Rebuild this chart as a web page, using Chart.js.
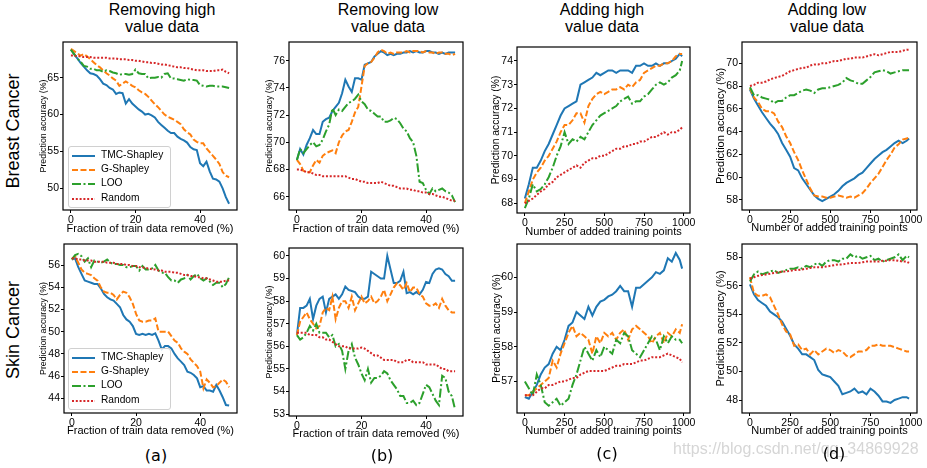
<!DOCTYPE html>
<html><head><meta charset="utf-8">
<script src="https://cdn.jsdelivr.net/npm/chart.js@4.4.1/dist/chart.umd.min.js"></script>
<style>
html,body{margin:0;padding:0;background:#fff;}
#root{position:relative;width:927px;height:468px;overflow:hidden;background:#fff;font-family:"Liberation Sans",Arial,sans-serif;color:#000;}
.ttl{position:absolute;top:1px;font-size:16px;line-height:17px;text-align:center;white-space:nowrap;transform:translateX(-50%);}
.row{position:absolute;font-size:18px;white-space:nowrap;transform:translate(-50%,-50%) rotate(-90deg);}
.lab{position:absolute;font-family:"DejaVu Sans",sans-serif;font-size:16px;white-space:nowrap;transform:translate(-50%,-50%);z-index:5;}
.wm{position:absolute;left:673px;top:449px;font-size:16px;color:#d6d6d6;white-space:nowrap;transform:translateY(-50%);z-index:4;}
canvas{position:absolute;}
.leg{position:absolute;width:101px;height:60px;border:1px solid #d0d0d0;border-radius:3px;background:rgba(255,255,255,0.85);z-index:6;font-size:10.2px;}
.leg div{position:absolute;left:0;height:12px;width:100px;}
.leg svg{position:absolute;left:3px;top:4px;}
.leg span{position:absolute;left:32px;top:-1px;white-space:nowrap;}
</style></head>
<body><div id="root">
<div class="ttl" style="left:162px">Removing high<br>value data</div>
<div class="ttl" style="left:388px">Removing low<br>value data</div>
<div class="ttl" style="left:602px">Adding high<br>value data</div>
<div class="ttl" style="left:827px">Adding low<br>value data</div>
<div class="row" style="left:12.5px;top:131px">Breast Cancer</div>
<div class="row" style="left:12.5px;top:330px">Skin Cancer</div>
<div class="wm">https://blog.csdn.net/qq_34869928</div>
<div class="lab" style="left:156px;top:455px">(a)</div>
<div class="lab" style="left:382px;top:455px">(b)</div>
<div class="lab" style="left:607px;top:453px">(c)</div>
<div class="lab" style="left:834px;top:453px">(d)</div>
</div>
<script>
// ---------- data ----------
const SERIES_NAMES = ['TMC-Shapley','G-Shapley','LOO','Random'];
const X_REMOVE = [0,1,2,3,4,5,6,7,8,9,10,11,12,13,14,15,16,17,18,19,20,21,22,23,24,25,26,27,28,29,30,31,32,33,34,35,36,37,38,39,40,41,42,43,44,45,46,47,48,49];
const X_ADD = [0,25,50,75,100,125,150,175,200,225,250,275,300,325,350,375,400,425,450,475,500,525,550,575,600,625,650,675,700,725,750,775,800,825,850,875,900,925,950,975,990];
const X_TICKS_REMOVE = [0,20,40];
const X_TICKS_ADD = [0,250,500,750,1000];

const A1_TMC = [68.8,68.2,67.6,67.0,66.5,66.0,65.6,65.5,65.3,64.8,64.2,64.0,63.6,63.4,62.8,63.0,62.9,61.5,62.1,61.5,61.1,60.7,60.4,60.0,60.1,59.9,59.6,59.0,58.6,58.2,57.8,57.5,57.5,57.0,56.7,56.5,56.2,55.6,55.3,55.2,53.4,53.0,53.6,52.3,51.3,51.2,50.9,50.0,48.8,47.9];
const A1_G = [68.9,68.6,68.3,68.0,68.2,67.9,67.5,67.1,66.7,66.4,66.0,65.6,65.3,64.9,64.6,63.9,64.2,64.5,64.2,63.9,63.7,63.3,63.0,62.8,62.4,61.9,61.4,61.0,60.5,60.0,59.7,59.5,59.3,59.0,58.7,58.0,57.6,57.3,56.6,56.3,56.1,56.1,55.4,54.9,54.4,53.9,53.3,52.2,51.7,51.5];
const A1_LOO = [68.8,68.2,67.6,67.2,66.6,66.5,66.2,66.2,66.0,66.0,65.8,66.0,65.9,65.7,65.6,65.4,65.5,65.5,65.4,65.5,66.1,65.6,65.5,65.5,64.9,65.0,65.0,65.1,65.0,65.5,65.6,64.9,64.9,64.8,64.7,64.6,64.8,64.7,64.7,64.6,64.0,63.9,63.8,63.9,63.9,63.8,63.8,63.8,63.7,63.6];
const A1_RAND = [68.0,68.0,67.9,67.9,67.8,67.8,67.8,67.7,67.7,67.7,67.7,67.7,67.6,67.6,67.6,67.5,67.5,67.5,67.4,67.4,67.3,67.3,67.2,67.1,67.1,67.0,67.0,66.9,66.8,66.8,66.7,66.6,66.5,66.4,66.4,66.3,66.3,66.2,66.1,66.0,66.0,66.0,65.9,65.9,65.9,66.0,66.0,66.1,65.8,65.6];

const B1_TMC = [68.7,69.5,69.1,69.8,70.3,70.9,70.6,70.6,71.5,71.7,71.8,72.3,72.6,72.9,73.6,74.6,74.1,73.7,74.7,74.7,74.6,75.7,75.8,75.9,76.3,76.5,76.7,76.6,76.4,76.5,76.4,76.5,76.5,76.6,76.6,76.7,76.6,76.7,76.6,76.6,76.7,76.7,76.6,76.6,76.5,76.6,76.5,76.6,76.6,76.6];
const B1_G = [68.7,68.4,67.9,67.8,67.8,68.3,68.7,68.5,69.0,69.2,69.3,69.4,69.2,70.0,70.5,70.8,70.9,71.5,72.2,72.6,74.1,75.6,75.8,75.9,76.2,76.6,76.8,76.7,76.5,76.6,76.5,76.6,76.6,76.6,76.7,76.6,76.7,76.7,76.7,76.6,76.7,76.6,76.6,76.5,76.6,76.6,76.5,76.5,76.4,76.5];
const B1_LOO = [68.7,69.5,69.2,69.5,69.8,70.0,69.7,69.8,70.2,70.8,71.3,72.5,72.0,72.4,72.3,72.6,72.9,73.0,73.2,73.5,73.0,72.8,72.4,72.3,72.1,71.9,71.9,71.5,71.5,71.6,71.8,71.7,71.4,71.0,70.8,70.3,70.0,69.0,67.1,67.0,66.5,66.2,66.6,66.4,66.5,66.6,66.4,66.3,66.1,65.6];
const B1_RAND = [68.0,68.0,67.9,67.8,67.8,67.7,67.6,67.6,67.5,67.5,67.5,67.5,67.5,67.5,67.5,67.5,67.4,67.3,67.3,67.2,67.1,67.1,67.0,67.0,67.0,67.0,67.1,67.0,66.9,66.8,66.8,66.7,66.6,66.6,66.6,66.5,66.5,66.4,66.4,66.3,66.3,66.2,66.2,66.1,66.0,66.0,65.9,65.8,65.7,65.7];

const C1_TMC = [68.2,68.8,69.5,69.5,69.8,70.2,70.5,70.9,71.3,71.7,72.0,72.1,72.2,72.3,73.0,73.1,73.2,73.3,73.5,73.4,73.5,73.6,73.6,73.5,73.6,73.6,73.6,73.5,73.8,73.8,73.9,73.8,73.8,73.9,73.8,73.9,73.9,74.0,74.1,74.3,74.2];
const C1_G = [68.0,68.5,69.0,69.3,69.5,69.8,70.0,70.3,70.6,71.0,71.3,71.3,71.5,71.8,71.8,71.4,72.1,72.4,72.6,72.7,72.6,72.7,72.8,72.8,72.9,72.8,73.0,72.9,73.1,73.2,73.5,73.6,73.7,73.8,73.8,73.9,73.9,74.0,74.2,74.3,74.3];
const C1_LOO = [67.8,68.2,68.8,68.5,68.6,68.8,69.1,69.5,70.0,70.4,71.0,70.5,70.7,70.6,70.8,70.7,71.0,71.3,71.5,71.7,71.8,71.9,72.0,72.1,72.3,72.4,72.5,72.2,72.3,72.3,72.5,72.6,72.8,73.0,73.1,73.0,73.1,73.3,73.4,73.6,74.0];
const C1_RAND = [68.0,68.1,68.2,68.35,68.5,68.6,68.8,68.9,69.1,69.2,69.3,69.4,69.5,69.6,69.5,69.7,69.8,69.9,69.9,70.0,70.0,70.1,70.2,70.3,70.3,70.4,70.4,70.5,70.5,70.6,70.6,70.7,70.8,70.8,70.9,71.0,70.9,71.0,71.0,71.1,71.2];

const D1_TMC = [67.7,66.9,66.3,65.7,65.2,64.7,64.3,63.8,63.0,62.4,61.8,60.8,60.6,59.9,59.4,58.9,58.4,58.1,57.9,58.1,58.3,58.5,58.8,59.2,59.5,59.7,59.9,60.2,60.4,60.8,61.2,61.6,61.9,62.2,62.4,62.7,63.0,63.2,63.0,63.2,63.4];
const D1_G = [67.8,67.0,66.6,66.0,65.8,65.8,65.6,64.9,64.4,63.6,63.0,62.2,61.5,60.6,59.8,59.0,58.4,58.3,58.3,58.2,58.2,58.3,58.4,58.3,58.2,58.3,58.2,58.4,58.6,59.0,59.5,59.9,60.3,60.9,61.5,62.0,62.6,62.9,63.3,63.4,63.5];
const D1_LOO = [67.9,67.2,67.2,67.0,66.9,66.8,66.5,66.7,66.7,67.0,67.2,67.2,67.4,67.6,67.7,67.6,67.4,67.7,67.8,67.8,67.9,68.0,68.1,68.3,68.7,68.5,68.4,68.2,68.2,68.5,68.8,69.2,69.3,69.4,69.3,69.1,69.2,69.3,69.4,69.4,69.4];
const D1_RAND = [68.0,68.1,68.3,68.3,68.4,68.6,68.7,68.8,68.9,69.1,69.3,69.4,69.5,69.6,69.6,69.8,69.9,69.9,70.0,70.0,70.1,70.2,70.2,70.3,70.4,70.4,70.5,70.5,70.5,70.6,70.7,70.8,70.7,70.8,70.9,71.0,71.0,71.0,71.1,71.2,71.2];

const A2_TMC = [56.5,56.6,55.8,55.2,54.6,54.5,54.4,54.3,54.3,53.9,53.4,53.1,52.9,52.8,52.5,52.2,51.5,51.1,50.9,50.5,49.8,49.7,49.8,49.7,49.8,49.7,49.85,49.2,48.4,48.7,48.7,48.5,48.0,47.6,47.3,47.0,46.4,46.3,46.1,45.8,45.0,45.1,44.7,44.7,44.6,45.2,44.7,44.1,43.4,43.35];
const A2_G = [56.5,56.8,56.2,55.6,55.3,55.2,55.1,54.8,54.6,54.0,53.6,53.5,53.5,53.3,52.9,53.3,53.6,53.5,53.1,52.5,51.6,51.0,50.9,50.9,51.0,51.0,51.2,50.0,50.0,50.0,50.0,49.6,49.2,49.0,48.5,48.2,48.0,47.5,47.2,46.9,46.4,44.9,45.7,45.4,45.0,45.1,45.4,45.7,45.5,45.0];
const A2_LOO = [56.5,56.9,57.0,56.8,56.3,56.6,55.8,56.4,56.3,56.2,56.3,56.5,56.2,56.1,56.1,56.0,56.0,55.8,55.8,55.9,55.9,55.5,55.9,55.6,55.6,55.7,56.0,55.5,55.3,55.3,54.9,54.6,54.6,54.4,54.7,54.8,55.1,54.7,55.0,55.2,54.8,54.6,54.8,54.5,54.2,54.4,54.4,54.0,54.3,54.9];
const A2_RAND = [56.6,56.6,56.5,56.5,56.4,56.4,56.4,56.3,56.3,56.3,56.3,56.2,56.2,56.2,56.1,56.1,56.1,56.0,56.0,55.9,55.9,55.8,55.8,55.7,55.7,55.6,55.6,55.5,55.5,55.4,55.4,55.4,55.3,55.3,55.2,55.1,55.1,55.0,55.0,54.9,54.9,54.8,54.8,54.7,54.6,54.5,54.5,54.5,54.6,54.6];

const B2_TMC = [56.5,57.7,57.7,57.8,58.1,57.2,57.8,58.1,58.2,57.5,58.1,58.2,58.3,58.1,58.3,58.65,58.5,58.45,58.4,58.2,58.1,58.1,58.2,59.3,59.2,59.1,59.0,59.0,60.0,59.4,58.8,58.8,58.9,59.3,58.35,58.4,58.3,58.4,58.3,58.5,58.85,58.8,59.2,59.4,59.45,59.4,59.2,59.1,58.9,58.9];
const B2_G = [56.5,57.1,57.3,57.5,57.2,57.0,56.8,56.9,57.5,57.7,57.6,58.2,57.2,57.7,58.0,58.0,57.7,58.2,57.6,57.9,58.2,57.9,58.0,58.2,57.9,58.0,58.2,58.5,58.0,58.3,58.6,58.8,58.7,58.5,58.8,58.4,58.6,58.6,58.3,58.2,57.9,57.8,57.8,57.9,57.7,58.1,57.8,57.6,57.5,57.5];
const B2_LOO = [56.5,56.3,56.4,56.6,56.9,56.7,57.0,56.6,56.6,56.6,56.4,56.5,56.0,56.1,55.8,55.0,55.8,56.1,55.5,55.2,54.8,54.5,55.0,54.4,54.6,54.6,54.7,54.9,54.8,54.5,54.3,54.1,53.8,53.8,53.5,53.5,53.6,53.4,53.5,53.9,54.3,54.2,53.9,53.6,53.4,54.7,54.6,54.0,53.8,53.2];
const B2_RAND = [56.6,56.6,56.6,56.6,56.5,56.5,56.5,56.4,56.4,56.3,56.3,56.2,56.1,56.0,56.0,56.0,55.9,55.9,55.9,55.9,55.95,55.9,55.8,55.7,55.6,55.6,55.5,55.4,55.4,55.4,55.4,55.3,55.3,55.3,55.4,55.4,55.3,55.3,55.3,55.3,55.2,55.2,55.2,55.2,55.1,55.0,55.0,54.9,54.9,54.9];

const C2_TMC = [56.55,56.5,56.7,56.9,57.2,57.4,57.5,57.8,58.0,57.9,58.2,58.6,58.7,59.0,58.9,58.8,59.15,58.9,59.15,59.3,59.35,59.45,59.5,59.6,59.75,59.6,59.6,59.15,59.7,59.7,59.8,59.9,60.0,60.15,60.1,60.2,60.55,60.45,60.7,60.5,60.25];
const C2_G = [56.6,56.6,56.7,56.8,56.9,57.0,57.1,57.6,57.4,57.8,58.1,58.4,58.6,58.3,58.4,58.3,58.2,57.8,58.3,58.1,58.4,58.3,58.4,58.2,58.4,58.5,58.2,58.5,58.6,58.5,58.4,58.3,58.1,58.3,58.4,58.1,58.4,58.3,58.5,58.4,58.65];
const C2_LOO = [57.0,56.8,56.6,57.2,56.9,56.4,56.3,56.4,56.5,56.3,56.4,56.5,56.9,57.2,57.6,58.0,57.8,57.6,57.9,57.7,58.0,57.9,57.8,58.2,58.1,58.4,58.3,57.9,57.8,57.7,57.9,58.1,58.3,58.2,57.9,58.3,58.1,58.3,58.2,58.2,58.1];
const C2_RAND = [56.6,56.6,56.6,56.7,56.8,56.8,56.9,56.9,56.95,57.0,57.0,57.05,57.1,57.1,57.2,57.25,57.3,57.3,57.3,57.3,57.3,57.35,57.4,57.45,57.45,57.5,57.5,57.5,57.55,57.6,57.6,57.65,57.7,57.7,57.7,57.75,57.8,57.75,57.7,57.65,57.55];

const D2_TMC = [56.1,55.4,55.0,54.8,54.6,54.2,54.0,53.8,53.5,53.0,52.5,51.9,51.6,51.2,51.2,51.0,50.8,50.1,49.8,49.7,49.6,49.3,49.0,48.4,48.5,48.6,48.8,48.5,48.6,48.4,48.8,48.6,48.3,47.9,47.9,47.8,48.0,48.1,48.2,48.2,48.1];
const D2_G = [56.6,55.5,55.3,55.3,55.4,55.2,54.6,54.0,53.3,52.8,52.6,51.8,51.9,51.5,51.6,51.2,51.5,51.2,51.4,51.6,51.5,51.3,51.5,51.4,51.1,51.0,51.2,51.4,51.4,51.5,51.8,51.8,51.9,51.8,51.8,51.8,51.7,51.6,51.5,51.4,51.4];
const D2_LOO = [56.3,56.8,57.0,56.8,56.9,57.0,57.1,56.9,57.0,57.1,57.2,57.2,57.3,57.2,57.4,57.3,57.5,57.6,57.4,57.7,57.8,57.8,57.7,57.9,57.9,58.2,58.0,58.1,57.9,58.0,58.1,57.8,57.9,57.7,57.8,57.9,58.0,58.2,57.8,58.1,58.0];
const D2_RAND = [56.5,56.6,56.7,56.75,56.8,56.85,56.9,56.95,57.0,57.0,57.05,57.1,57.1,57.15,57.2,57.25,57.3,57.3,57.3,57.35,57.4,57.45,57.5,57.5,57.55,57.6,57.6,57.6,57.65,57.7,57.7,57.7,57.7,57.75,57.75,57.8,57.8,57.75,57.7,57.7,57.6];

const Y_TICKS_A1 = [50,55,60,65];
const Y_TICKS_B1 = [66,68,70,72,74,76];
const Y_TICKS_C1 = [68,69,70,71,72,73,74];
const Y_TICKS_D1 = [58,60,62,64,66,68,70];
const Y_TICKS_A2 = [44,46,48,50,52,54,56];
const Y_TICKS_B2 = [53,54,55,56,57,58,59,60];
const Y_TICKS_C2 = [57,58,59,60];
const Y_TICKS_D2 = [48,50,52,54,56,58];

const X_TITLE_REMOVE = 'Fraction of train data removed (%)';
const X_TITLE_ADD = 'Number of added training points';
const Y_TITLE = 'Prediction accuracy (%)';

// ---------- styles ----------
const COLORS = ['#1f77b4','#ff7f0e','#2ca02c','#d62728'];
const DASHES = [[],[6,2.5],[9,2.5,2,2.5],[2,1.8]];
const FONT = "'Liberation Sans', Arial, sans-serif";

const PANELS = [
  {box:[63,42,237,210], yt:43.5, xt:229, yfs:8.8, add:false, yr:[47.06,69.84], yTicks:Y_TICKS_A1, s:[A1_TMC,A1_G,A1_LOO,A1_RAND], legend:true},
  {box:[289,42,463,210], yt:269.5, xt:229, yfs:8.8, add:false, yr:[65.02,77.37], yTicks:Y_TICKS_B1, s:[B1_TMC,B1_G,B1_LOO,B1_RAND]},
  {box:[517,47,690,213], yt:496, xt:232, yfs:10.3, add:true, yr:[67.59,74.59], yTicks:Y_TICKS_C1, s:[C1_TMC,C1_G,C1_LOO,C1_RAND]},
  {box:[742,42,917,210], yt:721, xt:228, yfs:11, add:true, yr:[57.12,71.87], yTicks:Y_TICKS_D1, s:[D1_TMC,D1_G,D1_LOO,D1_RAND]},
  {box:[64,244,237,413], yt:43.5, xt:431, yfs:8.8, add:false, yr:[42.68,57.89], yTicks:Y_TICKS_A2, s:[A2_TMC,A2_G,A2_LOO,A2_RAND], legend:true},
  {box:[289,248,463,416], yt:269.5, xt:434, yfs:8.8, add:false, yr:[52.92,60.35], yTicks:Y_TICKS_B2, s:[B2_TMC,B2_G,B2_LOO,B2_RAND]},
  {box:[517,244,690,413], yt:497, xt:431, yfs:10.3, add:true, yr:[56.09,60.96], yTicks:Y_TICKS_C2, s:[C2_TMC,C2_G,C2_LOO,C2_RAND]},
  {box:[742,244,917,413], yt:721, xt:431, yfs:11, add:true, yr:[47.09,58.93], yTicks:Y_TICKS_D2, s:[D2_TMC,D2_G,D2_LOO,D2_RAND]}
];

const framePlugin = {
  id:'frame',
  afterDatasetsDraw(c){
    const a = c.chartArea, ctx = c.ctx;
    ctx.save(); ctx.strokeStyle = '#000'; ctx.lineWidth = 1.2;
    ctx.strokeRect(a.left, a.top, a.right - a.left, a.bottom - a.top);
    ctx.restore();
  }
};

const root = document.getElementById('root');

function legendSvg(i){
  const d = DASHES[i].length ? ` stroke-dasharray="${DASHES[i].join(' ')}"` : '';
  return `<svg width="23" height="4"><line x1="0" y1="2" x2="23" y2="2" stroke="${COLORS[i]}" stroke-width="2"${d}/></svg>`;
}
function addLegend(left, top){
  const el = document.createElement('div');
  el.className = 'leg';
  el.style.left = left + 'px'; el.style.top = top + 'px';
  el.innerHTML = SERIES_NAMES.map((n,i)=>`<div style="top:${3 + i*14.2}px">${legendSvg(i)}<span>${n}</span></div>`).join('');
  root.appendChild(el);
}

function build(p){
  const [L,T,R,B] = p.box;
  const xfs = 11, tfs = 10.5;
  const cl = Math.round(p.yt - p.yfs*0.6);
  const cb = Math.round(p.xt + xfs*0.6);
  const ct = T - 12, cr = R + 18;
  const W = L - cl, H = cb - B;
  const cv = document.createElement('canvas');
  cv.width = cr - cl; cv.height = cb - ct;
  cv.style.left = cl + 'px'; cv.style.top = ct + 'px';
  cv.style.width = (cr - cl) + 'px'; cv.style.height = (cb - ct) + 'px';
  root.appendChild(cv);
  const xs = p.add ? X_ADD : X_REMOVE;
  const xTicks = p.add ? X_TICKS_ADD : X_TICKS_REMOVE;
  const xr = p.add ? [-49.5, 1039.5] : [-2.45, 51.45];
  const datasets = p.s.map((ys,i)=>({
    label: SERIES_NAMES[i],
    data: xs.map((x,j)=>({x:x, y:ys[j]})),
    borderColor: COLORS[i], borderDash: DASHES[i], borderWidth: 2,
    borderCapStyle: 'butt', pointRadius: 0, fill: false, tension: 0, order: 3 - i
  }));
  const grid = {display:true, drawOnChartArea:false, drawTicks:true, tickLength:3, color:'#000', tickColor:'#000', tickWidth:1};
  new Chart(cv, {
    type:'line',
    data:{datasets},
    options:{
      responsive:false, animation:false, devicePixelRatio:1,
      layout:{padding:{top:T - ct, right:cr - R, left:0, bottom:0}},
      plugins:{legend:{display:false}, tooltip:{enabled:false}},
      scales:{
        x:{type:'linear', min:xr[0], max:xr[1],
          afterBuildTicks:s=>{ s.ticks = xTicks.map(v=>({value:v})); },
          afterFit:s=>{ s.height = H; },
          grid, border:{display:false},
          ticks:{color:'#000', font:{family:FONT, size:tfs}, padding:1, maxRotation:0, autoSkip:false, callback:v=>String(v)},
          title:{display:true, text: p.add ? X_TITLE_ADD : X_TITLE_REMOVE, color:'#000', font:{family:FONT, size:xfs}, padding:0}
        },
        y:{type:'linear', min:p.yr[0], max:p.yr[1],
          afterBuildTicks:s=>{ s.ticks = p.yTicks.map(v=>({value:v})); },
          afterFit:s=>{ s.width = W; },
          grid, border:{display:false},
          ticks:{color:'#000', font:{family:FONT, size:tfs}, padding:1, autoSkip:false, callback:v=>String(v)},
          title:{display:true, text:Y_TITLE, color:'#000', font:{family:FONT, size:p.yfs}, padding:0}
        }
      }
    },
    plugins:[framePlugin]
  });
}

PANELS.forEach(build);
addLegend(68, 146);
addLegend(68, 348);
</script>
</body></html>
